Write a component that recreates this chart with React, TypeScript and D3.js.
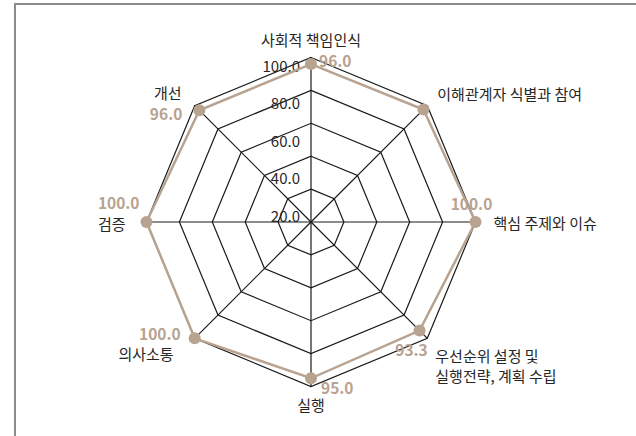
import React from 'react';
import * as d3 from 'd3';

const axes = [
  '사회적 책임인식',
  '이해관계자 식별과 참여',
  '핵심 주제와 이슈',
  '우선순위 설정 및|실행전략, 계획 수립',
  '실행',
  '의사소통',
  '검증',
  '개선',
];
const scores = [96.0, 96.7, 100.0, 93.3, 95.0, 100.0, 100.0, 96.0];
const showScore = [true, false, true, true, true, true, true, true];
const ringTicks = [20, 40, 60, 80, 100];

// label placement tweaks, relative to outer vertex (axis) or dot (score)
const axisLabelStyle = [
  { dx: 0, dy: -19, anchor: 'middle' },
  { dx: 10, dy: -13, anchor: 'start' },
  { dx: 18, dy: 0, anchor: 'start' },
  { dx: 8, dy: 17, anchor: 'start' },
  { dx: 0, dy: 17, anchor: 'middle' },
  { dx: -21, dy: 15, anchor: 'end' },
  { dx: -21, dy: 1, anchor: 'end' },
  { dx: -13, dy: -14, anchor: 'end' },
];
const scoreLabelStyle = [
  { dx: 8, dy: -4, anchor: 'start' },
  { dx: 0, dy: 0, anchor: 'start' },
  { dx: -4, dy: -19, anchor: 'middle' },
  { dx: -8, dy: 18, anchor: 'middle' },
  { dx: 10, dy: 9, anchor: 'start' },
  { dx: -14, dy: -5, anchor: 'end' },
  { dx: -7, dy: -20, anchor: 'end' },
  { dx: -17, dy: 3, anchor: 'end' },
];

const W = 636, H = 436;
const cx = 311, cy = 222, R = 164.5;
const tan = '#b8a290';
const ink = '#262626';
const font = '"Noto Sans CJK KR", "Noto Sans", sans-serif';

export default function App() {
  const r = d3.scaleLinear().domain([0, 100]).range([0, R]);
  const tickPos = d3.scaleLinear().domain([20, 100]).range([7, 157]);
  const angle = d3.scaleLinear().domain([0, axes.length]).range([0, 2 * Math.PI]);
  const pt = (i: number, v: number): [number, number] => {
    const a = angle(i);
    return [cx + r(v) * Math.sin(a), cy - r(v) * Math.cos(a)];
  };
  const closed = d3.line().curve(d3.curveLinearClosed);

  return (
    <svg width={W} height={H} style={{ position: 'absolute', left: 0, top: 0 }} fontFamily={font}>
      <path d={`M15,${H} V4 H${W}`} fill="none" stroke="#8c8c8c" strokeWidth={2} />
      {ringTicks.map(t => (
        <path key={t} d={closed(axes.map((_, i) => pt(i, t))) || ''} fill="none" stroke="#1a1a1a" strokeWidth={1.2} />
      ))}
      {axes.map((_, i) => {
        const [x, y] = pt(i, 100);
        return <line key={i} x1={cx} y1={cy} x2={x} y2={y} stroke="#1a1a1a" strokeWidth={1.2} />;
      })}
      {ringTicks.map(t => (
        <text key={t} x={cx - 11} y={cy - tickPos(t)} textAnchor="end" dominantBaseline="central" fontSize={15} fill={ink}>
          {t.toFixed(1)}
        </text>
      ))}
      <path d={closed(scores.map((v, i) => pt(i, v))) || ''} fill="none" stroke={tan} strokeWidth={2.5} />
      {scores.map((v, i) => {
        const [x, y] = pt(i, v);
        return <circle key={i} cx={x} cy={y} r={6} fill={tan} />;
      })}
      {axes.map((a, i) => {
        const [x, y] = pt(i, 100);
        const s = axisLabelStyle[i];
        const lines = a.split('|');
        return (
          <text key={i} x={x + s.dx} y={y + s.dy} textAnchor={s.anchor} dominantBaseline="central" fontSize={15} fill={ink}>
            {lines.map((l, j) => (
              <tspan key={j} x={x + s.dx} dy={j === 0 ? 0 : 20}>{l}</tspan>
            ))}
          </text>
        );
      })}
      {scores.map((v, i) => {
        if (!showScore[i]) return null;
        const [x, y] = pt(i, v);
        const s = scoreLabelStyle[i];
        return (
          <text key={i} x={x + s.dx} y={y + s.dy} textAnchor={s.anchor} dominantBaseline="central" fontSize={15.5} fontWeight="bold" fill={tan}>
            {v.toFixed(1)}
          </text>
        );
      })}
    </svg>
  );
}
